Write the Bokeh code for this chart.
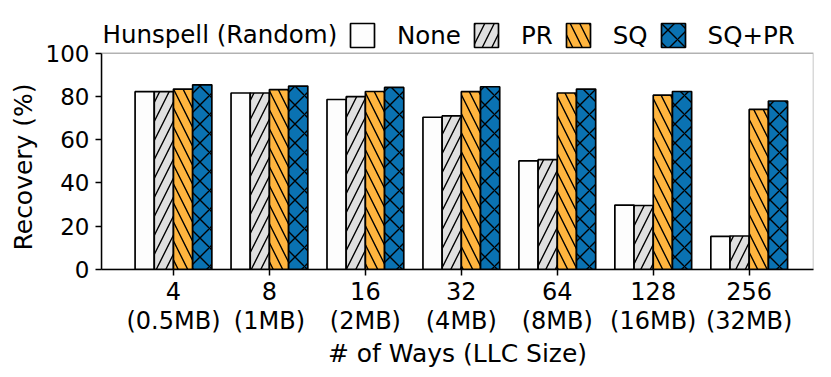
from bokeh.plotting import figure
from bokeh.models import (ColumnDataSource, FixedTicker, Legend, LegendItem, Range1d,
                          Label, BoxAnnotation, Title)
from bokeh.embed import file_html
from bokeh.resources import INLINE

ways = ["4", "8", "16", "32", "64", "128", "256"]
sizes = ["(0.5MB)", "(1MB)", "(2MB)", "(4MB)", "(8MB)", "(16MB)", "(32MB)"]
series = ["None", "PR", "SQ", "SQ+PR"]
none_vals = [82.2, 81.6, 78.6, 70.4, 50.2, 29.8, 15.3]
pr_vals = [82.2, 81.6, 79.9, 71.0, 50.8, 29.6, 15.5]
sq_vals = [83.4, 83.2, 82.3, 82.2, 81.6, 80.6, 74.0]
sqpr_vals = [85.4, 84.8, 84.2, 84.5, 83.4, 82.3, 77.9]
y_ticks = [0, 20, 40, 60, 80, 100]
legend_title = "Hunspell (Random)"

colors = ["#fdfdfd", "#e0e0e0", "#ffb53f", "#0a72b2"]
hatches = [" ", "/", "\\", "x"]
all_vals = [none_vals, pr_vals, sq_vals, sqpr_vals]

FONT = "DejaVu Sans"
bar_w = 0.2
X0, X1 = -0.75, 6.67
Y0, Y1 = 0, 100
Y_TOP = 117.9  # headroom inside the frame for the legend row

p = figure(width=831, height=377, output_backend="svg", toolbar_location=None,
           x_range=Range1d(X0, X1), y_range=Range1d(Y0, Y_TOP),
           min_border_left=101, min_border_right=18, min_border_top=14, min_border_bottom=108)

items = []
for k, (name, vals) in enumerate(zip(series, all_vals)):
    xs = [i + (k - 1.5) * bar_w for i in range(len(ways))]
    src = ColumnDataSource(dict(x=xs, top=vals))
    r = p.vbar(x="x", top="top", width=bar_w, bottom=0, source=src,
               fill_color=colors[k], line_color="black", line_width=1.7,
               hatch_pattern=hatches[k], hatch_color="black", hatch_weight=1.4,
               hatch_scale=19)
    items.append(LegendItem(label=name, renderers=[r]))

# plot box from 0 to 100
p.add_layout(BoxAnnotation(bottom=Y0, top=Y1, fill_alpha=0, line_color="black",
                           line_width=1.5))

legend = Legend(items=items, orientation="horizontal", location=(246, 219),
                border_line_color=None, background_fill_alpha=0,
                padding=0, margin=0, spacing=10, glyph_width=30, glyph_height=30,
                label_height=30, label_standoff=20, label_text_font=FONT,
                label_text_font_size="24.5px", label_text_color="black")
p.add_layout(legend, "center")

p.add_layout(Label(x=X0 + 0.01, y=108.5, text=legend_title, text_font=FONT,
                   text_font_size="24.5px", text_baseline="middle", text_align="left",
                   text_color="black"))

# y-axis title, centred on the 0..100 part of the frame
ytitle = Title(text="Recovery (%)", align="left", offset=19, standoff=10,
               text_font=FONT, text_font_size="25px", text_font_style="normal",
               text_color="black")
p.add_layout(ytitle, "left")

p.xgrid.visible = False
p.ygrid.visible = False
p.outline_line_color = None
p.background_fill_color = "white"

p.xaxis.ticker = FixedTicker(ticks=list(range(len(ways))))
p.xaxis.major_label_overrides = {i: f"{w}\n{s}" for i, (w, s) in enumerate(zip(ways, sizes))}
p.yaxis.ticker = FixedTicker(ticks=y_ticks)
p.yaxis.bounds = (Y0, Y1)
for ax in (p.xaxis[0], p.yaxis[0]):
    ax.major_label_text_font = FONT
    ax.major_label_text_color = "black"
    ax.axis_label_text_font = FONT
    ax.axis_label_text_font_size = "25px"
    ax.axis_label_text_font_style = "normal"
    ax.axis_label_text_color = "black"
    ax.axis_line_color = "black"
    ax.axis_line_width = 1.5
    ax.major_tick_line_color = "black"
    ax.major_tick_line_width = 1.5
    ax.major_tick_out = 6
    ax.major_tick_in = 0
    ax.minor_tick_line_color = None
p.xaxis.major_label_text_font_size = "24px"
p.yaxis.major_label_text_font_size = "23px"
p.xaxis.major_label_text_line_height = 1.05
p.xaxis.axis_label = "# of Ways (LLC Size)"
p.xaxis.major_label_standoff = 2
p.yaxis.major_label_standoff = 6
p.xaxis.axis_label_standoff = 1

open("out.html", "w").write(file_html(p, INLINE))
